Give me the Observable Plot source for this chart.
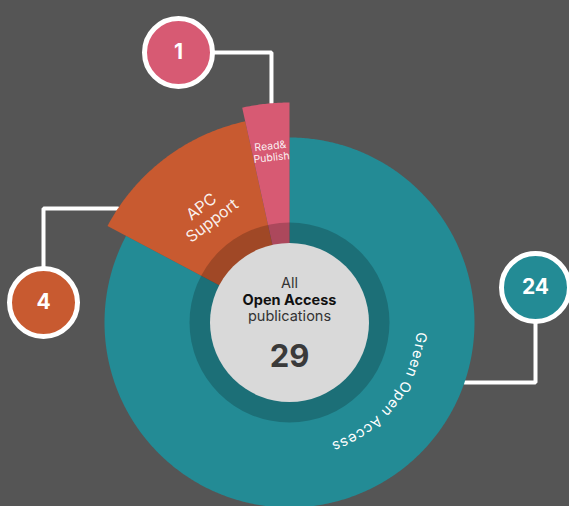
<!DOCTYPE html>
<html>
<head>
<meta charset="utf-8">
<script src="https://cdn.jsdelivr.net/npm/d3@7"></script>
<script src="https://cdn.jsdelivr.net/npm/@observablehq/plot@0.6"></script>
<style>
  html, body { margin: 0; padding: 0; background: #555555; overflow: hidden; }
  #chart svg { display: block; }
</style>
</head>
<body>
<div id="chart"></div>
<script>
// ---- data ----
const categories = ["Green Open Access", "APC Support", "Read&Publish"];
const sliceLabels = ["Green Open Access", "APC\nSupport", "Read&\nPublish"];
const values = [24, 4, 1];
const centerLines = ["All", "Open Access", "publications"];

// ---- layout / style ----
const W = 569, H = 506;
const cx = 289, cy = 322;
const colors = ["#238b95", "#c85a30", "#d75a73"];
const outerR = [185, 206, 220];
const calloutPos = [[535, 287], [43, 302], [178, 52]];
const anchorAngle = [108.9, 303.6, 355.3];
const connectorMode = ["vh", "vh", "hv"];
const font = "Inter, 'DejaVu Sans', sans-serif";

const total = d3.sum(values);
const rad = d => d * Math.PI / 180;
const pt = (aDeg, r) => ({x: cx + r * Math.sin(rad(aDeg)), y: cy - r * Math.cos(rad(aDeg))});

// angles
let acc = 0;
const slices = values.map((v, i) => {
  const a0 = acc / total * 360;
  acc += v;
  const a1 = acc / total * 360;
  return {i, a0, a1, mid: (a0 + a1) / 2};
});

function wedgePoints(s) {
  const pts = [{x: cx, y: cy}];
  const n = Math.max(8, Math.ceil((s.a1 - s.a0) / 0.5));
  for (let k = 0; k <= n; k++) pts.push(pt(s.a0 + (s.a1 - s.a0) * k / n, outerR[s.i]));
  pts.push({x: cx, y: cy});
  return pts;
}

// connectors
const connectors = slices.map(s => {
  const [px, py] = calloutPos[s.i];
  const an = pt(anchorAngle[s.i], outerR[s.i]);
  const corner = connectorMode[s.i] === "vh" ? {x: px, y: an.y} : {x: an.x, y: py};
  return [{x: px, y: py, z: s.i}, {...corner, z: s.i}, {...an, z: s.i}];
}).flat();

// Green Open Access text along arc
const ctx = document.createElement("canvas").getContext("2d");
const gFontSize = 14.5, gSpacing = 1.0, gRadius = 132, gMid = 127.5;
ctx.font = `${gFontSize}px ${font}`;
const gText = sliceLabels[0];
const widths = [...gText].map(c => ctx.measureText(c).width + gSpacing);
const L = d3.sum(widths) - gSpacing;
let cum = -L / 2;
const gChars = [...gText].map((c, k) => {
  const s = cum + (widths[k] - gSpacing) / 2;
  cum += widths[k];
  const a = gMid + (s / gRadius) * 180 / Math.PI;
  const p = pt(a, gRadius);
  return {c, x: p.x, y: p.y, rot: a};
});

// labels for small slices
const labelRadius = [0, 137, 172];
const labelSize = [0, 16, 10.5];
const smallLabels = slices.slice(1).map(s => {
  const p = pt(s.mid, labelRadius[s.i]);
  return {text: sliceLabels[s.i], x: p.x, y: p.y, rot: s.mid - 360, size: labelSize[s.i]};
});

const marks = [];
// connectors underneath
marks.push(Plot.line(connectors, {x: "x", y: "y", z: "z", stroke: "white", strokeWidth: 4, curve: "linear", strokeLinejoin: "miter"}));
// wedges
slices.forEach(s => {
  marks.push(Plot.line(wedgePoints(s), {x: "x", y: "y", fill: colors[s.i], stroke: "none", curve: "linear"}));
});
// dark overlay ring and center disc
marks.push(Plot.dot([{x: cx, y: cy}], {x: "x", y: "y", r: 100, fill: "black", fillOpacity: 0.2, stroke: "none"}));
marks.push(Plot.dot([{x: cx, y: cy}], {x: "x", y: "y", r: 79.5, fill: "#d9d9d9", stroke: "none"}));
// center text
marks.push(Plot.text([centerLines[0]], {x: () => cx, y: () => 283, text: d => d, fill: "#333333", fontSize: 14.5, fontFamily: font, textAnchor: "middle", lineAnchor: "middle"}));
marks.push(Plot.text([centerLines[1]], {x: () => cx, y: () => 299.5, text: d => d, fill: "#111111", fontSize: 14.5, fontWeight: "bold", fontFamily: font, textAnchor: "middle", lineAnchor: "middle"}));
marks.push(Plot.text([centerLines[2]], {x: () => cx, y: () => 316, text: d => d, fill: "#333333", fontSize: 14.5, fontFamily: font, textAnchor: "middle", lineAnchor: "middle"}));
marks.push(Plot.text([total], {x: () => cx, y: () => 357, text: d => String(d), fill: "#3a3a3a", fontSize: 31, fontWeight: "bold", fontFamily: font, textAnchor: "middle", lineAnchor: "middle"}));
// slice labels
marks.push(Plot.text(smallLabels, {x: "x", y: "y", text: "text", rotate: "rot", fontSize: d => d.size, fill: "white", fillOpacity: 0.92, fontFamily: font, textAnchor: "middle", lineAnchor: "middle", lineHeight: 1.1}));
marks.push(Plot.text(gChars, {x: "x", y: "y", text: "c", rotate: "rot", fontSize: gFontSize, fill: "white", fontFamily: font, textAnchor: "middle", lineAnchor: "middle"}));
// callouts
const callouts = slices.map(s => ({x: calloutPos[s.i][0], y: calloutPos[s.i][1], v: values[s.i], color: colors[s.i]}));
marks.push(Plot.dot(callouts, {x: "x", y: "y", r: 34, fill: "color", stroke: "white", strokeWidth: 5}));
marks.push(Plot.text(callouts, {x: "x", y: "y", text: d => String(d.v), fill: "white", fontSize: 21, fontWeight: "bold", fontFamily: font, textAnchor: "middle", lineAnchor: "middle"}));

const chart = Plot.plot({
  width: W, height: H,
  margin: 0,
  x: {domain: [0, W], range: [0, W], axis: null},
  y: {domain: [0, H], range: [0, H], axis: null},
  color: {type: "identity"},
  style: {background: "#555555", overflow: "hidden"},
  marks
});
document.getElementById("chart").appendChild(chart);
</script>
</body>
</html>
